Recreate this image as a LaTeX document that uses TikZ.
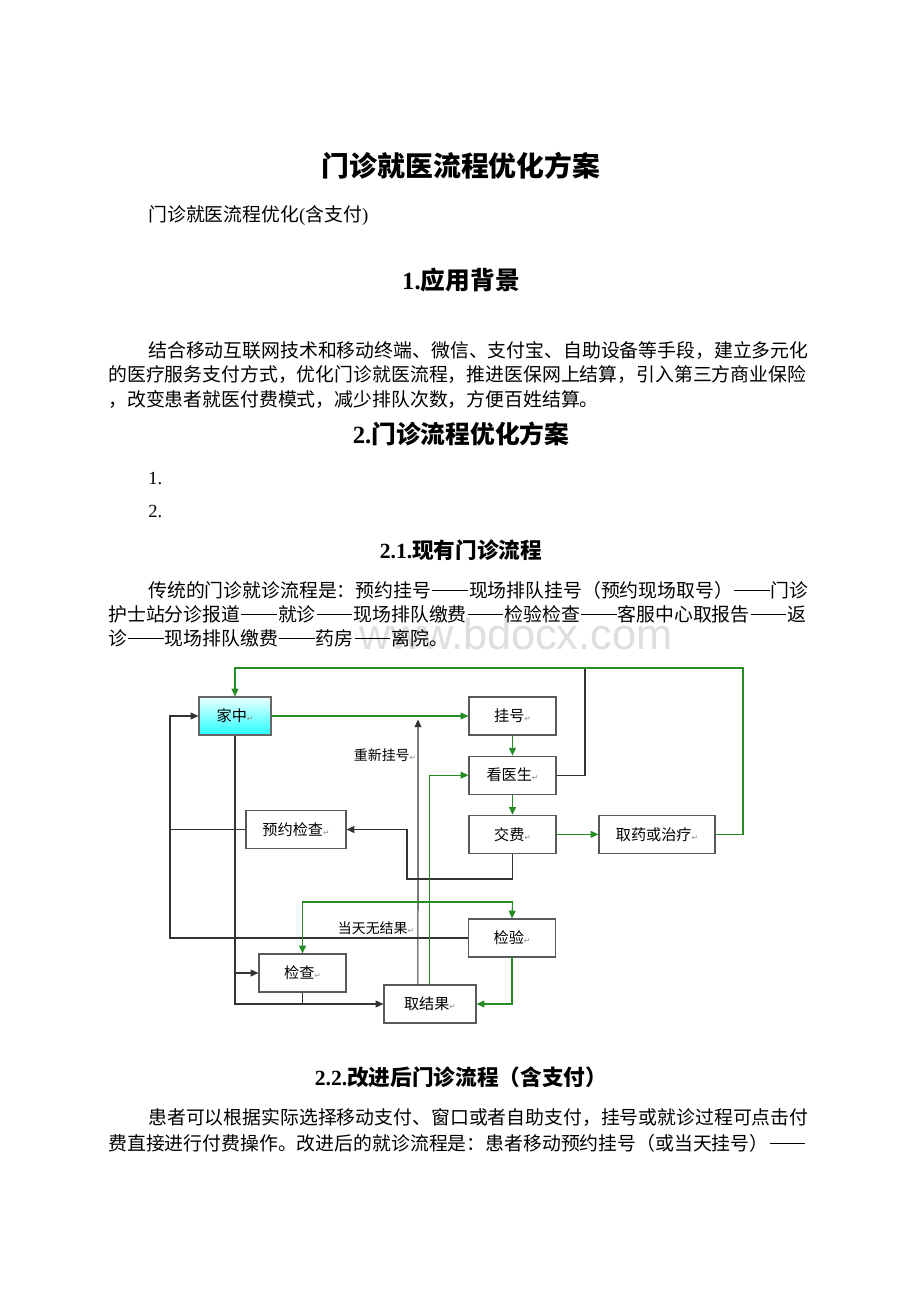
\documentclass[tikz,border=0pt]{standalone}
\usepackage{fontspec}
\setmainfont{Liberation Serif}
\newfontfamily\cjk{Noto Sans CJK SC}
\newfontfamily\symfont{DejaVu Sans}
\newfontfamily\markfont{Liberation Sans}
\usetikzlibrary{positioning, arrows.meta}

\definecolor{flowgreen}{RGB}{35,140,35}
\newcommand{\pxu}{0.6467pt}
\newcommand{\ret}{{\symfont\fontsize{5}{5}\selectfont\color{black!45}↵}}
\newcommand{\dbldash}{\hspace{0.06em}\rule[0.34em]{1.88em}{0.055em}\hspace{0.06em}}

\begin{document}
\begin{tikzpicture}[x=0.6467pt,y=-0.6467pt,>={Triangle[length=5pt,width=4.5pt]},
  box/.style={draw=black!65,line width=0.8pt,fill=white,minimum width=87*\pxu,
    minimum height=38*\pxu,inner sep=1pt,font=\cjk\fontsize{9.8}{11}\selectfont},
  flow/.style={draw=flowgreen,line width=0.7pt},
  back/.style={draw=black!80,line width=0.7pt},
  note/.style={inner sep=0pt,font=\cjk\fontsize{9}{11}\selectfont},
  doctitle/.style={font=\cjk\bfseries\fontsize{18}{22}\selectfont},
  head/.style={font=\rmfamily\bfseries\fontsize{16}{19}\selectfont},
  subhead/.style={font=\rmfamily\bfseries\fontsize{14}{17}\selectfont},
  bodyline/.style={anchor=west,inner sep=0pt,font=\cjk\fontsize{12.2}{14}\selectfont}]
  \useasboundingbox[fill=white] (0,0) rectangle (920,1302);

  % page text
  \node[inner sep=0pt,font=\markfont\fontsize{28}{30}\selectfont,text=black!13] (mark) at (516,634) {www.bdocx.com};
  \node[doctitle] (title) at (461,166) {门诊就医流程优化方案};
  \node[bodyline] (sub) at (148,216) {门诊就医流程优化{\rmfamily(}含支付{\rmfamily)}};
  \node[head] (h1) at (461,280) {1.{\cjk 应用背景}};
  \node[bodyline] (p1a) at (148,350) {结合移动互联网技术和移动终端、微信、支付宝、自助设备等手段，建立多元化};
  \node[bodyline] (p1b) at (108,375) {的医疗服务支付方式，优化门诊就医流程，推进医保网上结算，引入第三方商业保险};
  \node[bodyline] (p1c) at (108,399) {，改变患者就医付费模式，减少排队次数，方便百姓结算。};
  \node[head] (h2) at (461,434) {2.{\cjk 门诊流程优化方案}};
  \node[bodyline,font=\rmfamily\fontsize{12}{14}\selectfont] (n1) at (148,478) {1.};
  \node[bodyline,font=\rmfamily\fontsize{12}{14}\selectfont] (n2) at (148,511) {2.};
  \node[subhead] (h21) at (461,550) {2.1.{\cjk 现有门诊流程}};
  \node[bodyline] (p2a) at (148,590) {传统的门诊就诊流程是：预约挂号\dbldash 现场排队挂号（预约现场取号）\dbldash 门诊};
  \node[bodyline] (p2b) at (108,614) {护士站分诊报道\dbldash 就诊\dbldash 现场排队缴费\dbldash 检验检查\dbldash 客服中心取报告\dbldash 返};
  \node[bodyline] (p2c) at (108,638) {诊\dbldash 现场排队缴费\dbldash 药房\dbldash 离院。};
  \node[subhead] (h22) at (461,1077) {2.2.{\cjk 改进后门诊流程（含支付）}};
  \node[bodyline] (p3a) at (148,1118) {患者可以根据实际选择移动支付、窗口或者自助支付，挂号或就诊过程可点击付};
  \node[bodyline] (p3b) at (108,1143) {费直接进行付费操作。改进后的就诊流程是：患者移动预约挂号（或当天挂号）\dbldash};

  % flow chart
  \node[box,minimum width=72*\pxu,draw=black!60,top color=cyan!8,bottom color=cyan!85] (home) at (235,716) {家中\ret};
  \node[box] (reg) at (512.5,716) {挂号\ret};
  \node[box,below=12.9pt of reg] (doc) {看医生\ret};
  \node[box,below=12.9pt of doc] (pay) {交费\ret};
  \node[box,minimum width=116*\pxu,right=27pt of pay] (drug) {取药或治疗\ret};
  \node[box,minimum width=100*\pxu] (book) at (296,829.5) {预约检查\ret};
  \node[box] (lab) at (512,938) {检验\ret};
  \node[box] (exam) at (302.5,973) {检查\ret};
  \node[box,minimum width=92*\pxu] (result) at (430,1004) {取结果\ret};
  \node[note] (again) at (385,755) {重新挂号\ret};
  \node[note] (none) at (376,928) {当天无结果\ret};

  \coordinate (ring) at (743,668);
  \coordinate (top) at (585,668);
  \coordinate (turn) at (407,879);
  \coordinate (fork) at (512.5,902);
  \coordinate (left) at (170,938);
  \coordinate (redo) at (418,719.5);

  \draw[back] (doc.east) -| (top);
  \draw[back,->] (pay.south) |- (turn) |- (book.east);
  \draw[back,->] (lab.west) -- (left) |- (home.west);
  \draw[back] (book.west) -- (book.west -| left);
  \draw[back,->] (home.south) |- (result.west);
  \draw[back,->] (home.south |- exam.west) -- (exam.west);
  \draw[back] (exam.south) -- (exam.south |- result.west);
  \draw[back,->] ([xshift=-7.8pt]result.north) -- (redo);

  \draw[flow,->] (home.east) -- (reg.west);
  \draw[flow,->] (reg.south) -- (doc.north);
  \draw[flow,->] (doc.south) -- (pay.north);
  \draw[flow,->] (pay.east) -- (drug.west);
  \draw[flow,->] (drug.east) -| (ring) -| (home.north);
  \draw[flow,->] (fork) -- (lab.north);
  \draw[flow,->] (fork) -| (exam.north);
  \draw[flow,->] (lab.south) |- (result.east);
  \draw[flow,->] ([xshift=-0.6pt]result.north) |- (doc.west);
\end{tikzpicture}
\end{document}
